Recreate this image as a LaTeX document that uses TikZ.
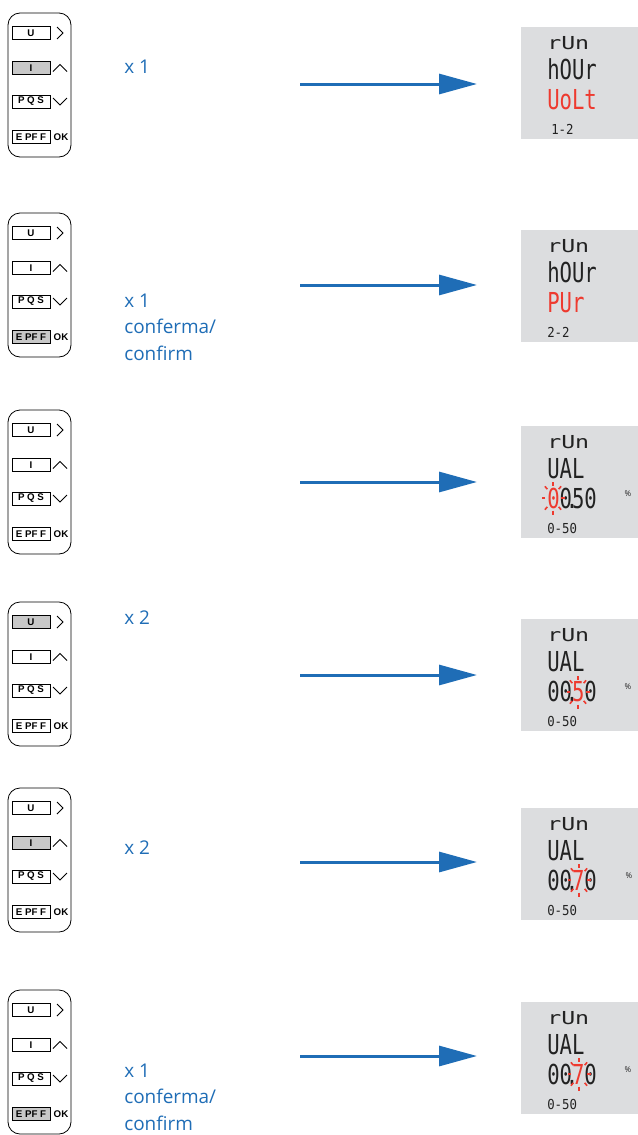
\documentclass[tikz,border=0pt]{standalone}
\usepackage{fontspec}
\usetikzlibrary{arrows.meta}
\setmainfont{Open Sans}
\newfontfamily\segA[FakeStretch=1.3]{DejaVu Sans Mono}
\newfontfamily\segB[FakeStretch=0.75]{DejaVu Sans Mono}
\newfontfamily\segC[FakeStretch=0.9]{DejaVu Sans Mono}
\newfontfamily\btnfont{Liberation Sans}
\definecolor{flowblue}{HTML}{1F6DB6}
\definecolor{lcdred}{HTML}{EE3A2F}
\definecolor{lcdgray}{HTML}{DCDDDF}
\definecolor{keygray}{HTML}{C8C8C8}
\definecolor{lcdink}{HTML}{222222}

\tikzset{
  padbox/.style={draw, line width=0.6pt, rounded corners=9pt, minimum width=47.25pt, minimum height=108pt, inner sep=0pt},
  keybtn/.style={draw, line width=0.6pt, minimum width=28.5pt, minimum height=9.75pt, inner sep=0pt, font=\btnfont\bfseries\fontsize{7.3}{8}\selectfont},
  sym/.style={line width=0.6pt},
  lcdbox/.style={fill=lcdgray, minimum width=87.75pt, minimum height=84pt, inner sep=0pt},
  segsmall/.style={inner sep=0pt, anchor=base west, text=lcdink, font=\segA\fontsize{13.4}{14}\selectfont},
  segmid/.style={inner sep=0pt, anchor=base west, text=lcdink, font=\segB\fontsize{20.6}{22}\selectfont},
  segtiny/.style={inner sep=0pt, anchor=base west, text=lcdink, font=\segC\fontsize{10.3}{11}\selectfont},
  pct/.style={inner sep=0pt, text=lcdink, font=\fontsize{6}{7}\selectfont},
  ray/.style={draw=lcdred, line width=1.2pt},
  lbl/.style={inner sep=0pt, anchor=west, align=left, text=flowblue, font=\fontsize{14.2}{20}\selectfont},
  flowarrow/.style={draw=flowblue, line width=2.25pt, -{Triangle[length=28.5pt,width=15pt]}}
}

\newcommand\kpad[6]{%
  \node[padbox] (k#1) at (39.5,{#2+72}) {};
  \node[keybtn,fill=#3] (k#1u) at (31,{#2+20}) {U};
  \node[keybtn,fill=#4] (k#1i) at (31,{#2+55}) {I};
  \node[keybtn,fill=#5] (k#1p) at (31,{#2+88.5}) {P Q S};
  \node[keybtn,fill=#6] (k#1e) at (31,{#2+124}) {E PF F};
  \draw[sym] (57,{#2+14}) -- (63,{#2+20}) -- (57,{#2+26});
  \draw[sym] (53,{#2+58.5}) -- (60,{#2+51.5}) -- (67,{#2+58.5});
  \draw[sym] (53,{#2+85}) -- (60,{#2+92}) -- (67,{#2+85});
  \node[inner sep=0pt, font=\btnfont\bfseries\fontsize{7.3}{8}\selectfont] (k#1ok) at (61,{#2+124}) {OK};
}
\newcommand\lcd[2]{\node[lcdbox] (d#1) at (579.5,{#2+56}) {};}
\newcommand\rays[2]{%
  \foreach \a in {0,45,...,315}
    \draw[ray] ({#1+8*cos(\a)},{#2+12.5*sin(\a)}) -- ({#1+11.5*cos(\a)},{#2+16.5*sin(\a)});
}
\newcommand\dpt{\kern-4.65pt.\kern-4.65pt}

\begin{document}
\begin{tikzpicture}[x=0.75pt,y=-0.75pt]
\useasboundingbox (0,0) rectangle (638,1135);

% ---------- row 1
\kpad{1}{13}{white}{keygray}{white}{white}
\node[lbl] (l1) at (124,67) {x 1};
\coordinate (a1s) at (300,84); \coordinate (a1e) at (477,84);
\draw[flowarrow] (a1s) -- (a1e);
\lcd{1}{27}
\node[segsmall] (d1a) at (547,49.5) {rUn};
\node[segmid] (d1b) at (547,79.5) {hOUr};
\node[segmid,text=lcdred] (d1c) at (547,109.5) {UoLt};
\node[segtiny] (d1d) at (551,134.5) {1-2};

% ---------- row 2
\kpad{2}{213}{white}{white}{white}{keygray}
\node[lbl] (l2) at (124,327) {x 1\\conferma/\\confirm};
\coordinate (a2s) at (300,285); \coordinate (a2e) at (477,285);
\draw[flowarrow] (a2s) -- (a2e);
\lcd{2}{230}
\node[segsmall] (d2a) at (547,252.5) {rUn};
\node[segmid] (d2b) at (547,282.5) {hOUr};
\node[segmid,text=lcdred] (d2c) at (547,312.5) {PUr};
\node[segtiny] (d2d) at (547,337.5) {2-2};

% ---------- row 3
\kpad{3}{410}{white}{white}{white}{white}
\coordinate (a3s) at (300,482); \coordinate (a3e) at (477,482);
\draw[flowarrow] (a3s) -- (a3e);
\lcd{3}{426}
\node[segsmall] (d3a) at (547,448.5) {rUn};
\node[segmid] (d3b) at (547,478.5) {UAL};
\node[segmid] (d3c) at (547,508.5) {{\color{lcdred}0}0\dpt50};
\rays{553}{498}
\node[pct] (d3p) at (628,494) {\%};
\node[segtiny] (d3d) at (547,533.5) {0-50};

% ---------- row 4
\kpad{4}{602}{keygray}{white}{white}{white}
\node[lbl] (l4) at (124,618) {x 2};
\coordinate (a4s) at (300,675); \coordinate (a4e) at (477,675);
\draw[flowarrow] (a4s) -- (a4e);
\lcd{4}{619}
\node[segsmall] (d4a) at (547,641.5) {rUn};
\node[segmid] (d4b) at (547,671.5) {UAL};
\node[segmid] (d4c) at (547,701.5) {00\dpt{\color{lcdred}5}0};
\rays{578}{692}
\node[pct] (d4p) at (628,687) {\%};
\node[segtiny] (d4d) at (547,726.5) {0-50};

% ---------- row 5
\kpad{5}{788}{white}{keygray}{white}{white}
\node[lbl] (l5) at (124,848) {x 2};
\coordinate (a5s) at (300,862); \coordinate (a5e) at (477,862);
\draw[flowarrow] (a5s) -- (a5e);
\lcd{5}{808}
\node[segsmall] (d5a) at (547,830.5) {rUn};
\node[segmid] (d5b) at (547,860.5) {UAL};
\node[segmid] (d5c) at (547,890.5) {00\dpt{\color{lcdred}7}0};
\rays{579}{880}
\node[pct] (d5p) at (629,876) {\%};
\node[segtiny] (d5d) at (547,915.5) {0-50};

% ---------- row 6
\kpad{6}{990}{white}{white}{white}{keygray}
\node[lbl] (l6) at (124,1097) {x 1\\conferma/\\confirm};
\coordinate (a6s) at (300,1056); \coordinate (a6e) at (477,1056);
\draw[flowarrow] (a6s) -- (a6e);
\lcd{6}{1002}
\node[segsmall] (d6a) at (547,1024.5) {rUn};
\node[segmid] (d6b) at (547,1054.5) {UAL};
\node[segmid] (d6c) at (547,1084.5) {00\dpt{\color{lcdred}7}0};
\rays{579}{1074}
\node[pct] (d6p) at (628,1070) {\%};
\node[segtiny] (d6d) at (547,1109.5) {0-50};
\end{tikzpicture}
\end{document}
